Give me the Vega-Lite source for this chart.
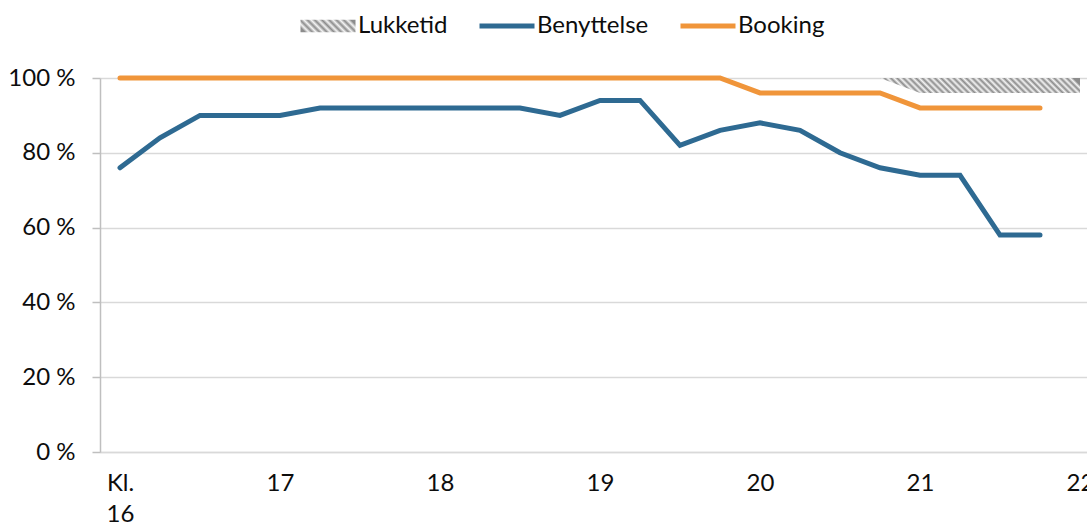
{
  "$schema": "https://vega.github.io/schema/vega-lite/v6.json",
  "width": 987,
  "height": 374,
  "autosize": {"type": "none"},
  "padding": {"left": 100, "top": 78, "right": 0, "bottom": 77},
  "background": "white",
  "config": {
    "view": {"stroke": null},
    "font": "Lato",
    "axis": {"labelFont": "Lato", "labelFontSize": 24, "labelColor": "#0d0d0d"},
    "legend": {"labelFont": "Lato", "labelFontSize": 24, "labelColor": "#0d0d0d"}
  },
  "datasets": {
    "lines": [
      {"t": 16, "serie": "Benyttelse", "v": 76},
      {"t": 16.25, "serie": "Benyttelse", "v": 84},
      {"t": 16.5, "serie": "Benyttelse", "v": 90},
      {"t": 16.75, "serie": "Benyttelse", "v": 90},
      {"t": 17, "serie": "Benyttelse", "v": 90},
      {"t": 17.25, "serie": "Benyttelse", "v": 92},
      {"t": 17.5, "serie": "Benyttelse", "v": 92},
      {"t": 17.75, "serie": "Benyttelse", "v": 92},
      {"t": 18, "serie": "Benyttelse", "v": 92},
      {"t": 18.25, "serie": "Benyttelse", "v": 92},
      {"t": 18.5, "serie": "Benyttelse", "v": 92},
      {"t": 18.75, "serie": "Benyttelse", "v": 90},
      {"t": 19, "serie": "Benyttelse", "v": 94},
      {"t": 19.25, "serie": "Benyttelse", "v": 94},
      {"t": 19.5, "serie": "Benyttelse", "v": 82},
      {"t": 19.75, "serie": "Benyttelse", "v": 86},
      {"t": 20, "serie": "Benyttelse", "v": 88},
      {"t": 20.25, "serie": "Benyttelse", "v": 86},
      {"t": 20.5, "serie": "Benyttelse", "v": 80},
      {"t": 20.75, "serie": "Benyttelse", "v": 76},
      {"t": 21, "serie": "Benyttelse", "v": 74},
      {"t": 21.25, "serie": "Benyttelse", "v": 74},
      {"t": 21.5, "serie": "Benyttelse", "v": 58},
      {"t": 21.75, "serie": "Benyttelse", "v": 58},
      {"t": 16, "serie": "Booking", "v": 100},
      {"t": 16.25, "serie": "Booking", "v": 100},
      {"t": 16.5, "serie": "Booking", "v": 100},
      {"t": 16.75, "serie": "Booking", "v": 100},
      {"t": 17, "serie": "Booking", "v": 100},
      {"t": 17.25, "serie": "Booking", "v": 100},
      {"t": 17.5, "serie": "Booking", "v": 100},
      {"t": 17.75, "serie": "Booking", "v": 100},
      {"t": 18, "serie": "Booking", "v": 100},
      {"t": 18.25, "serie": "Booking", "v": 100},
      {"t": 18.5, "serie": "Booking", "v": 100},
      {"t": 18.75, "serie": "Booking", "v": 100},
      {"t": 19, "serie": "Booking", "v": 100},
      {"t": 19.25, "serie": "Booking", "v": 100},
      {"t": 19.5, "serie": "Booking", "v": 100},
      {"t": 19.75, "serie": "Booking", "v": 100},
      {"t": 20, "serie": "Booking", "v": 96},
      {"t": 20.25, "serie": "Booking", "v": 96},
      {"t": 20.5, "serie": "Booking", "v": 96},
      {"t": 20.75, "serie": "Booking", "v": 96},
      {"t": 21, "serie": "Booking", "v": 92},
      {"t": 21.25, "serie": "Booking", "v": 92},
      {"t": 21.5, "serie": "Booking", "v": 92},
      {"t": 21.75, "serie": "Booking", "v": 92}
    ],
    "lukketid": [
      {"t": 20.75, "lo": 100, "hi": 100},
      {"t": 21, "lo": 96, "hi": 100},
      {"t": 21.25, "lo": 96, "hi": 100},
      {"t": 21.5, "lo": 96, "hi": 100},
      {"t": 21.75, "lo": 96, "hi": 100},
      {"t": 22, "lo": 96, "hi": 100}
    ]
  },
  "layer": [
    {
      "data": {"name": "lukketid"},
      "mark": {
        "type": "area",
        "fill": {
          "gradient": "linear", "x1": 0, "y1": 0.5375, "x2": 1, "y2": 0.4625,
          "stops": [
            {"offset": 0, "color": "#8c8c8c"}, {"offset": 0.015625, "color": "#f4f4f4"},
            {"offset": 0.03125, "color": "#8c8c8c"}, {"offset": 0.046875, "color": "#f4f4f4"},
            {"offset": 0.0625, "color": "#8c8c8c"}, {"offset": 0.078125, "color": "#f4f4f4"},
            {"offset": 0.09375, "color": "#8c8c8c"}, {"offset": 0.109375, "color": "#f4f4f4"},
            {"offset": 0.125, "color": "#8c8c8c"}, {"offset": 0.140625, "color": "#f4f4f4"},
            {"offset": 0.15625, "color": "#8c8c8c"}, {"offset": 0.171875, "color": "#f4f4f4"},
            {"offset": 0.1875, "color": "#8c8c8c"}, {"offset": 0.203125, "color": "#f4f4f4"},
            {"offset": 0.21875, "color": "#8c8c8c"}, {"offset": 0.234375, "color": "#f4f4f4"},
            {"offset": 0.25, "color": "#8c8c8c"}, {"offset": 0.265625, "color": "#f4f4f4"},
            {"offset": 0.28125, "color": "#8c8c8c"}, {"offset": 0.296875, "color": "#f4f4f4"},
            {"offset": 0.3125, "color": "#8c8c8c"}, {"offset": 0.328125, "color": "#f4f4f4"},
            {"offset": 0.34375, "color": "#8c8c8c"}, {"offset": 0.359375, "color": "#f4f4f4"},
            {"offset": 0.375, "color": "#8c8c8c"}, {"offset": 0.390625, "color": "#f4f4f4"},
            {"offset": 0.40625, "color": "#8c8c8c"}, {"offset": 0.421875, "color": "#f4f4f4"},
            {"offset": 0.4375, "color": "#8c8c8c"}, {"offset": 0.453125, "color": "#f4f4f4"},
            {"offset": 0.46875, "color": "#8c8c8c"}, {"offset": 0.484375, "color": "#f4f4f4"},
            {"offset": 0.5, "color": "#8c8c8c"}, {"offset": 0.515625, "color": "#f4f4f4"},
            {"offset": 0.53125, "color": "#8c8c8c"}, {"offset": 0.546875, "color": "#f4f4f4"},
            {"offset": 0.5625, "color": "#8c8c8c"}, {"offset": 0.578125, "color": "#f4f4f4"},
            {"offset": 0.59375, "color": "#8c8c8c"}, {"offset": 0.609375, "color": "#f4f4f4"},
            {"offset": 0.625, "color": "#8c8c8c"}, {"offset": 0.640625, "color": "#f4f4f4"},
            {"offset": 0.65625, "color": "#8c8c8c"}, {"offset": 0.671875, "color": "#f4f4f4"},
            {"offset": 0.6875, "color": "#8c8c8c"}, {"offset": 0.703125, "color": "#f4f4f4"},
            {"offset": 0.71875, "color": "#8c8c8c"}, {"offset": 0.734375, "color": "#f4f4f4"},
            {"offset": 0.75, "color": "#8c8c8c"}, {"offset": 0.765625, "color": "#f4f4f4"},
            {"offset": 0.78125, "color": "#8c8c8c"}, {"offset": 0.796875, "color": "#f4f4f4"},
            {"offset": 0.8125, "color": "#8c8c8c"}, {"offset": 0.828125, "color": "#f4f4f4"},
            {"offset": 0.84375, "color": "#8c8c8c"}, {"offset": 0.859375, "color": "#f4f4f4"},
            {"offset": 0.875, "color": "#8c8c8c"}, {"offset": 0.890625, "color": "#f4f4f4"},
            {"offset": 0.90625, "color": "#8c8c8c"}, {"offset": 0.921875, "color": "#f4f4f4"},
            {"offset": 0.9375, "color": "#8c8c8c"}, {"offset": 0.953125, "color": "#f4f4f4"},
            {"offset": 0.96875, "color": "#8c8c8c"}, {"offset": 0.984375, "color": "#f4f4f4"},
            {"offset": 1, "color": "#8c8c8c"}
          ]
        }
      },
      "encoding": {
        "x": {"field": "t", "type": "quantitative"},
        "y": {"field": "lo", "type": "quantitative"},
        "y2": {"field": "hi"}
      }
    },
    {
      "data": {"name": "lines"},
      "mark": {"type": "line", "strokeWidth": 5, "strokeCap": "round", "strokeJoin": "miter"},
      "encoding": {
        "x": {
          "field": "t", "type": "quantitative",
          "scale": {"domain": [15.875, 22.04375], "nice": false, "zero": false},
          "axis": {
            "values": [16, 17, 18, 19, 20, 21, 22],
            "format": "d",
            "title": null, "grid": false, "ticks": false,
            "domainColor": "#d9d9d9", "domainWidth": 1.5,
            "labelPadding": 19, "labelLineHeight": 31, "labelBaseline": "top",
            "labelFlush": false, "labelOverlap": false,
            "labelExpr": "datum.value == 16 ? ['Kl.', '16'] : datum.label"
          }
        },
        "y": {
          "field": "v", "type": "quantitative",
          "scale": {"domain": [0, 100], "nice": false},
          "axis": {
            "values": [0, 20, 40, 60, 80, 100],
            "title": null, "grid": true, "gridColor": "#d9d9d9", "gridWidth": 1.5,
            "domainColor": "#bfbfbf", "domainWidth": 1.5,
            "tickColor": "#bfbfbf", "tickSize": 8, "tickWidth": 1.5,
            "labelPadding": 17,
            "labelExpr": "datum.value + ' %'"
          }
        },
        "color": {
          "field": "serie", "type": "nominal",
          "scale": {"domain": ["Lukketid", "Benyttelse", "Booking"], "range": ["#a0a0a0", "#2e6a92", "#f0953a"]},
          "legend": {
            "title": null, "orient": "none", "direction": "horizontal",
            "legendX": 216, "legendY": -64, "padding": 0,
            "symbolType": "stroke", "symbolSize": 3025, "symbolStrokeWidth": 5,
            "labelOffset": 18, "columnPadding": 21,
            "encode": {
              "symbols": {
                "update": {
                  "shape": {"signal": "datum.value === 'Lukketid' ? 'M-1,-0.23H1V0.23H-1Z' : 'stroke'"},
                  "strokeWidth": {"signal": "datum.value === 'Lukketid' ? 0 : 5"},
                  "fill": {"signal": "datum.value === 'Lukketid' ? {gradient: 'linear', x1: 0, y1: 0.615, x2: 1, y2: 0.385, stops: [{offset: 0, color: '#8c8c8c'}, {offset: 0.0625, color: '#f4f4f4'}, {offset: 0.125, color: '#8c8c8c'}, {offset: 0.1875, color: '#f4f4f4'}, {offset: 0.25, color: '#8c8c8c'}, {offset: 0.3125, color: '#f4f4f4'}, {offset: 0.375, color: '#8c8c8c'}, {offset: 0.4375, color: '#f4f4f4'}, {offset: 0.5, color: '#8c8c8c'}, {offset: 0.5625, color: '#f4f4f4'}, {offset: 0.625, color: '#8c8c8c'}, {offset: 0.6875, color: '#f4f4f4'}, {offset: 0.75, color: '#8c8c8c'}, {offset: 0.8125, color: '#f4f4f4'}, {offset: 0.875, color: '#8c8c8c'}, {offset: 0.9375, color: '#f4f4f4'}, {offset: 1, color: '#8c8c8c'}]} : 'transparent'"}
                }
              }
            }
          }
        }
      }
    }
  ]
}
